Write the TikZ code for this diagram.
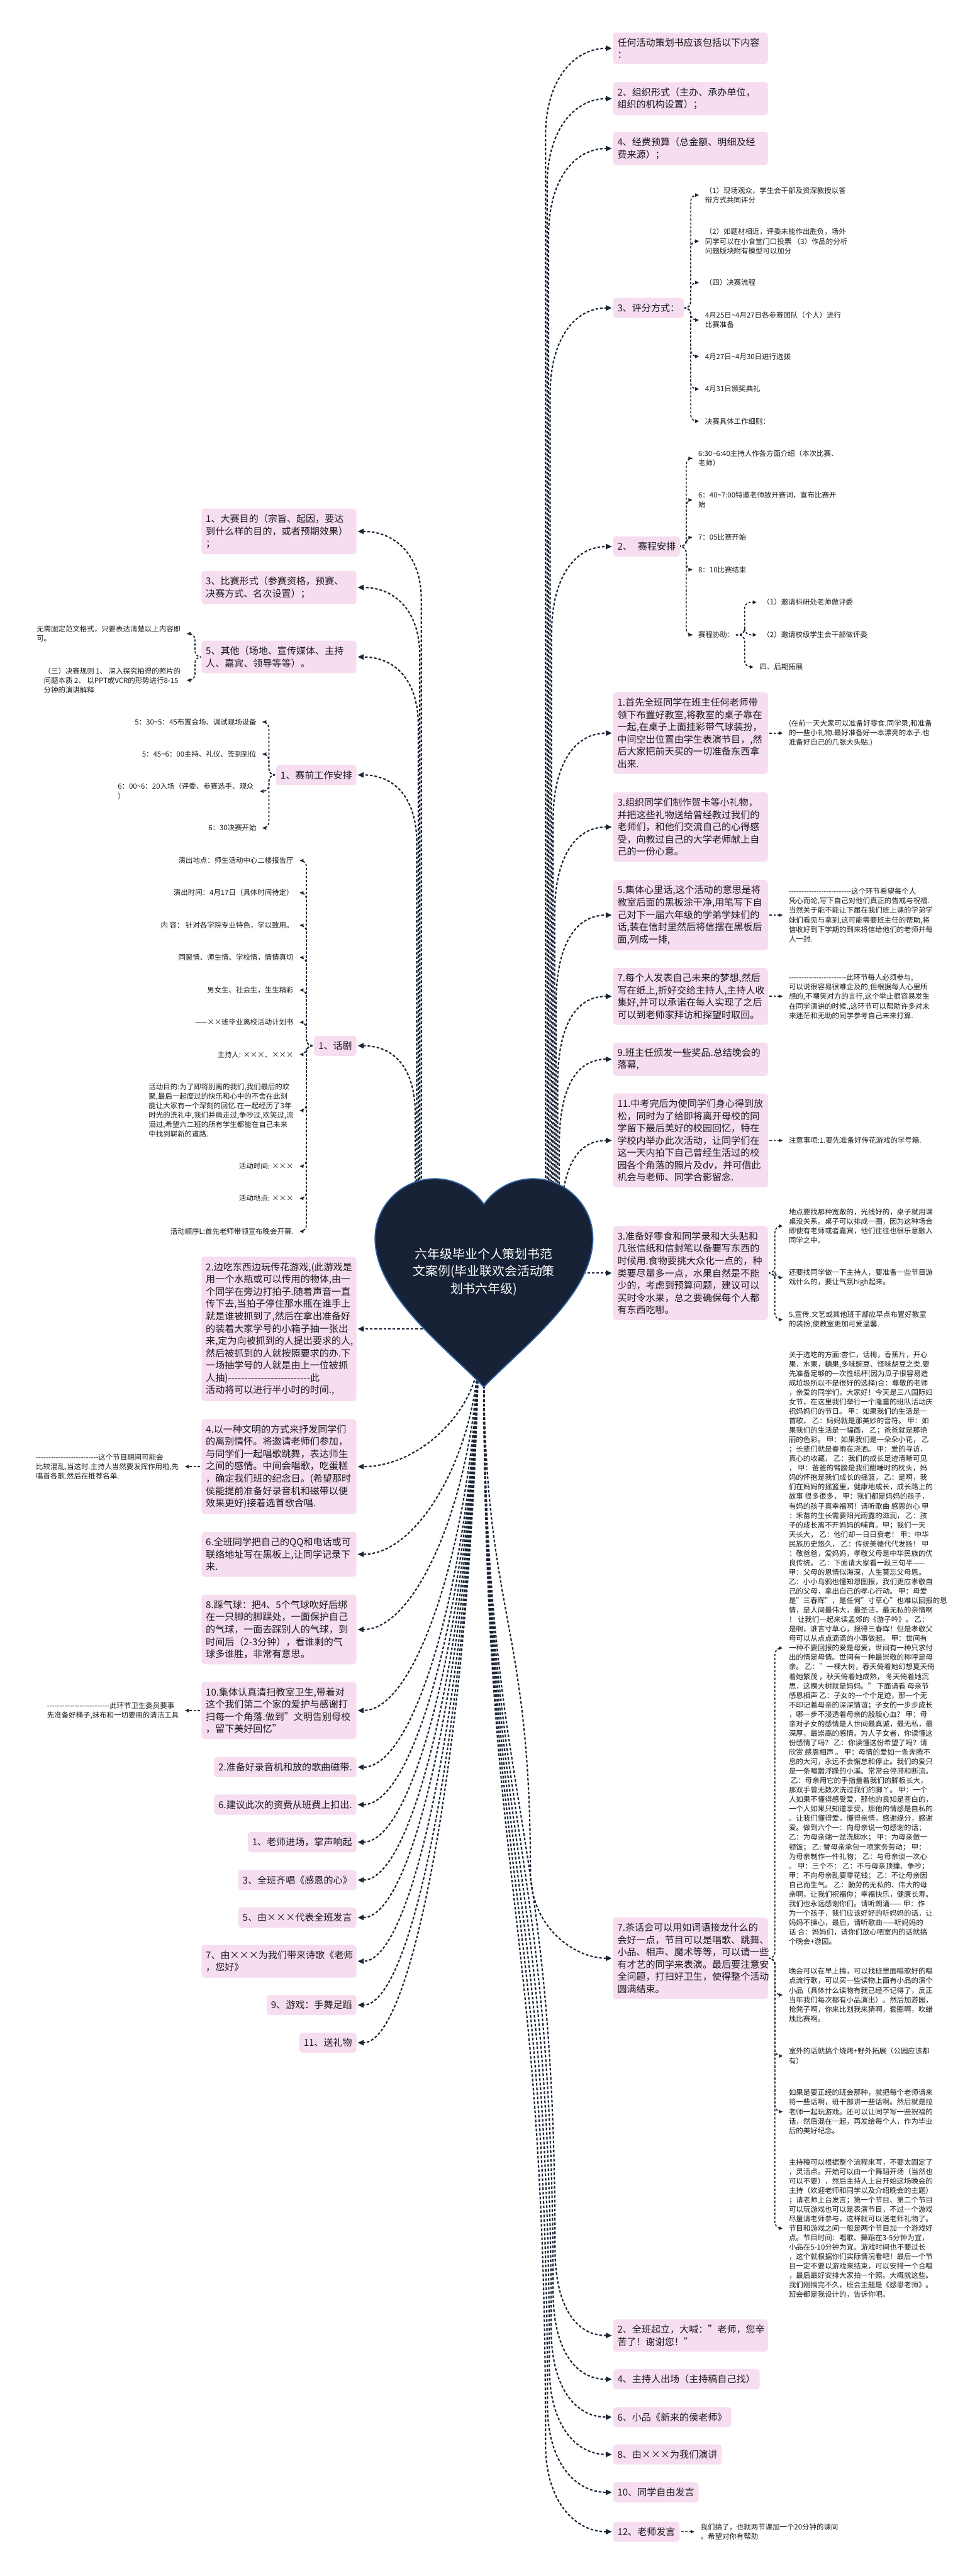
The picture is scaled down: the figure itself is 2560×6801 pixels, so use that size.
\documentclass[tikz,border=0pt]{standalone}
\usepackage{fontspec}
\setmainfont{Noto Sans CJK SC}
\usetikzlibrary{arrows.meta,calc}
\definecolor{boxpink}{HTML}{F6DEF0}
\definecolor{linec}{HTML}{1B2536}
\definecolor{heartc}{HTML}{172236}
\definecolor{heartb}{HTML}{2F5F9E}
\definecolor{txt}{HTML}{1A1A1A}
\pgfdeclarelayer{bgl}
\pgfdeclarelayer{conn}
\pgfdeclarelayer{heartl}
\pgfsetlayers{bgl,conn,heartl,main}
\newcommand\dfive{-{}-{}-{}-{}-{}}
\tikzset{
 box/.style={fill=boxpink, rounded corners=8pt, inner xsep=11.5pt, inner ysep=15pt, align=left, font=\fontsize{25}{32.5}\selectfont, text=txt},
 wbox/.style={text width=386pt},
 rbox/.style={box, anchor=west},
 lbox/.style={box, anchor=east},
 leaf/.style={inner sep=0pt, align=left, font=\fontsize{19}{25}\selectfont, text=txt},
 rleaf/.style={leaf, anchor=west},
 lleaf/.style={leaf, anchor=east},
 conn/.style={draw=linec, line width=3.6pt, dash pattern=on 7pt off 5pt, -{Triangle[length=16pt,width=14pt]}, shorten >=3pt},
 cconn/.style={draw=linec, line width=2.8pt, dash pattern=on 6pt off 4.5pt, -{Triangle[length=10pt,width=9pt]}, rounded corners=16pt, shorten >=16pt, shorten <=4pt},
 title/.style={align=center, text=white, font=\fontsize{33}{46}\selectfont, inner sep=0pt}
}
% main connectors
\newcommand\cUR[2]{\draw[conn] let \p1=(#1.west) in (root.center) -- (#2pt,-3220pt) -- (#2pt,\y1-230pt) .. controls (#2pt,\y1-80pt) and (\x1-100pt,\y1) .. (\p1);}
\newcommand\cUL[2]{\draw[conn] let \p1=(#1.east) in (root.center) -- (#2pt,-3220pt) -- (#2pt,\y1-180pt) .. controls (#2pt,\y1-60pt) and (\x1+100pt,\y1) .. (\p1);}
\newcommand\cLR[2]{\draw[conn] let \p1=(#1.west) in (root.center) -- (1277pt,-3600pt) .. controls (1277pt,{0.5*(\y1+230pt-3600pt)}) and (#2pt,{0.5*(\y1+230pt-3600pt)}) .. (#2pt,\y1+230pt) .. controls (#2pt,\y1+80pt) and (\x1-100pt,\y1) .. (\p1);}
\newcommand\cLL[1]{\draw[conn] let \p1=(#1.east) in (root.center) -- (1262pt,-3600pt) .. controls (1245pt,{0.5*(\y1-3600pt)}) and ({0.5*(\x1+1262pt)},\y1) .. (\p1);}
% child connectors
\newcommand\chR[3]{\draw[cconn] (#1.east) -- ++(#2pt,0pt) |- (#3.west);}
\newcommand\chL[3]{\draw[cconn] (#1.west) -- ++(-#2pt,0pt) |- (#3.east);}
\newcommand\chS[2]{\draw[cconn] (#1.east) -- (#1.east -| #2.west);}
\newcommand\chSL[2]{\draw[cconn] (#1.west) -- (#1.west -| #2.east);}
\begin{document}
\begin{tikzpicture}[x=1pt,y=-1pt]
\useasboundingbox (0,0) rectangle (2560,6801);
\begin{pgfonlayer}{bgl}
\fill[white] (0,0) rectangle (2560,6801);
\end{pgfonlayer}

% ---------- root ----------
\node[title] (root) at (1277,3358) {六年级毕业个人策划书范\\文案例(毕业联欢会活动策\\划书六年级)};

% ---------- right boxes ----------
\node[rbox,wbox] (r1) at (1618,127.5) {任何活动策划书应该包括以下内容\\：};
\node[rbox,wbox] (r2) at (1618,260.5) {2、组织形式（主办、承办单位，\\组织的机构设置）；};
\node[rbox,wbox] (r3) at (1618,392) {4、经费预算（总金额、明细及经\\费来源）；};
\node[rbox] (r4) at (1618,813) {3、评分方式：};
\node[rbox] (r5) at (1618,1443) {2、\hspace{0.6em}赛程安排};
\node[rbox,wbox] (r6) at (1618,1935.5) {1.首先全班同学在班主任何老师带\\领下布置好教室,将教室的桌子靠在\\一起,在桌子上面挂彩带气球装扮，\\中间空出位置由学生表演节目，,然\\后大家把前天买的一切准备东西拿\\出来.};
\node[rbox,wbox] (r7) at (1618,2183.5) {3.组织同学们制作贺卡等小礼物，\\并把这些礼物送给曾经教过我们的\\老师们，和他们交流自己的心得感\\受，向教过自己的大学老师献上自\\己的一份心意。};
\node[rbox,wbox] (r8) at (1618,2416) {5.集体心里话,这个活动的意思是将\\教室后面的黑板涂干净,用笔写下自\\己对下一届六年级的学弟学妹们的\\话,装在信封里然后将信摆在黑板后\\面,列成一排,};
\node[rbox,wbox] (r9) at (1618,2630.5) {7.每个人发表自己未来的梦想,然后\\写在纸上,折好交给主持人,主持人收\\集好,并可以承诺在每人实现了之后\\可以到老师家拜访和探望时取回。};
\node[rbox,wbox] (r10) at (1618,2796.5) {9.班主任颁发一些奖品.总结晚会的\\落幕,};
\node[rbox,wbox] (r11) at (1618,3011) {11.中考完后为使同学们身心得到放\\松，同时为了给即将离开母校的同\\学留下最后美好的校园回忆，特在\\学校内举办此次活动，让同学们在\\这一天内拍下自己曾经生活过的校\\园各个角落的照片及dv，并可借此\\机会与老师、同学合影留念.};
\node[rbox,wbox] (r12) at (1618,3361) {3.准备好零食和同学录和大头贴和\\几张信纸和信封笔以备要写东西的\\时候用.食物要挑大众化一点的，种\\类要尽量多一点，水果自然是不能\\少的，考虑到预算问题，建议可以\\买时令水果，总之要确保每个人都\\有东西吃哪。};
\node[rbox,wbox] (r13) at (1618,5170) {7.茶话会可以用如词语接龙什么的\\会好一点，节目可以是唱歌、跳舞、\\小品、相声、魔术等等，可以请一些\\有才艺的同学来表演。最后要注意安\\全问题，打扫好卫生，使得整个活动\\圆满结束。};
\node[rbox,wbox] (r14) at (1618,6166) {2、全班起立，大喊："老师，您辛\\苦了！谢谢您！"};
\node[rbox] (r15) at (1618,6281.5) {4、主持人出场（主持稿自己找）};
\node[rbox] (r16) at (1618,6381.5) {6、小品《新来的侯老师》};
\node[rbox] (r17) at (1618,6480) {8、由×××为我们演讲};
\node[rbox] (r18) at (1618,6580) {10、同学自由发言};
\node[rbox] (r19) at (1618,6684) {12、老师发言};

% ---------- right leaves ----------
\node[rleaf] (r4a) at (1861,515) {（1）现场观众，学生会干部及资深教授以答\\辩方式共同评分};
\node[rleaf] (r4b) at (1861,637) {（2）如题材相近，评委未能作出胜负，场外\\同学可以在小食堂门口投票 （3）作品的分析\\问题版块附有模型可以加分};
\node[rleaf] (r4c) at (1861,746) {（四）决赛流程};
\node[rleaf] (r4d) at (1861,845) {4月25日\textasciitilde 4月27日各参赛团队（个人）进行\\比赛准备};
\node[rleaf] (r4e) at (1861,941) {4月27日\textasciitilde 4月30日进行选拔};
\node[rleaf] (r4f) at (1861,1027) {4月31日颁奖典礼};
\node[rleaf] (r4g) at (1861,1112) {决赛具体工作细则：};

\node[rleaf] (r5a) at (1843,1210) {6:30\textasciitilde 6:40主持人作各方面介绍（本次比赛、\\老师）};
\node[rleaf] (r5b) at (1843,1320) {6：40\textasciitilde 7:00特邀老师致开赛词，宣布比赛开\\始};
\node[rleaf] (r5c) at (1843,1419) {7：05比赛开始};
\node[rleaf] (r5d) at (1843,1504) {8：10比赛结束};
\node[rleaf] (r5e) at (1843,1676) {赛程协助：};
\node[rleaf] (r5e1) at (2013,1590) {（1）邀请科研处老师做评委};
\node[rleaf] (r5e2) at (2013,1676) {（2）邀请校级学生会干部做评委};
\node[rleaf] (r5e3) at (2005,1761) {四、后期拓展};

\node[rleaf] (r6a) at (2082,1935) {(在前一天大家可以准备好零食.同学录,和准备\\的一些小礼物.最好准备好一本漂亮的本子.也\\准备好自己的几张大头贴.)};
\node[rleaf] (r8a) at (2082,2416) {\dfive\dfive\dfive\dfive\dfive 这个环节希望每个人\\凭心而论,写下自己对他们真正的告戒与祝福.\\当然关于能不能让下届在我们班上课的学弟学\\妹们看见与拿到,这可能需要班主任的帮助,将\\信收好到下学期的到来将信给他们的老师并每\\人一封.};
\node[rleaf] (r9a) at (2082,2631) {\dfive\dfive\dfive\dfive -{}-{}-{}此环节每人必须参与,\\可以说很容易很难企及的,但根据每人心里所\\想的,不嘲笑对方的言行,这个举止很容易发生\\在同学演讲的时候.,这环节可以帮助许多对未\\来迷茫和无助的同学参考自己未来打算.};
\node[rleaf] (r11a) at (2082,3011) {注意事项:1.要先准备好传花游戏的学号箱.};
\node[rleaf] (r12a) at (2082,3237) {地点要找那种宽敞的，光线好的，桌子就用课\\桌没关系。桌子可以排成一圈，因为这种场合\\即使有老师或者嘉宾，他们往往也很乐意融入\\同学之中。};
\node[rleaf] (r12b) at (2082,3373) {还要找同学做一下主持人，要准备一些节目游\\戏什么的，要让气氛high起来。};
\node[rleaf] (r12c) at (2082,3484) {5.宣传.文艺或其他班干部应早点布置好教室\\的装扮,使教室更加可爱温馨.};

\node[rleaf] (r13a) at (2082,4351) {关于选吃的方面:杏仁，话梅，香蕉片，开心\\
果，水果，糖果,多味豌豆、怪味胡豆之类.要\\
先准备足够的一次性纸杯(因为瓜子很容易造\\
成垃圾所以不是很好的选择)合：尊敬的老师\\
，亲爱的同学们，大家好！今天是三八国际妇\\
女节，在这里我们举行一个隆重的班队活动庆\\
祝妈妈们的节日。 甲：如果我们的生活是一\\
首歌， 乙：妈妈就是那美妙的音符。 甲：如\\
果我们的生活是一幅画， 乙；爸爸就是那艳\\
丽的色彩。 甲：如果我们是一朵朵小花， 乙\\
；长辈们就是春雨在浇洒。 甲：爱的寻访，\\
真心的收藏， 乙：我们的成长足迹清晰可见\\
， 甲：爸爸的臂膀是我们酣睡时的枕头，妈\\
妈的怀抱是我们成长的摇篮， 乙：是啊，我\\
们在妈妈的摇篮里，健康地成长，成长路上的\\
故事 很多很多， 甲：我们都是妈妈的孩子，\\
有妈的孩子真幸福啊！请听歌曲 感恩的心 甲\\
：禾苗的生长需要阳光雨露的滋润， 乙：孩\\
子的成长离不开妈妈的哺育。甲；我们一天\\
天长大， 乙：他们却一日日衰老！ 甲：中华\\
民族历史悠久， 乙：传统美德代代发扬！ 甲\\
：敬爸爸，爱妈妈，孝敬父母是中华民族的优\\
良传统。 乙：下面请大家看一段三句半——\\
甲：父母的恩情似海深，人生莫忘父母恩。\\
乙：小小乌鸦也懂知恩图报，我们更应孝敬自\\
己的父母，拿出自己的孝心行动。 甲：母爱\\
是"三春晖"，是任何"寸草心"也难以回报的恩\\
情，是人间最伟大，最圣洁，最无私的亲情啊\\
！ 让我们一起来读孟郊的《游子吟》。 乙：\\
是啊，谁言寸草心，报得三春晖！但是孝敬父\\
母可以从点点滴滴的小事做起。 甲：世间有\\
一种不要回报的爱是母爱，世间有一种只求付\\
出的情是母情。世间有一种最崇敬的称呼是母\\
亲。 乙："一棵大树，春天倚着她幻想夏天倚\\
着她繁茂 ，秋天倚着她成熟， 冬天倚着她沉\\
思，这棵大树就是妈妈。" 下面请看 母亲节\\
感恩相声 乙：子女的一个个足迹，那一个无\\
不印记着母亲的深深情谊；子女的一步步成长\\
，哪一步不浸透着母亲的殷殷心血？ 甲：母\\
亲对子女的感情是人世间最真诚，最无私，最\\
深厚，最崇高的感情。为人子女者，你读懂这\\
份感情了吗？ 乙：你读懂这份希望了吗？请\\
欣赏 感恩相声 。 甲：母情的爱如一条奔腾不\\
息的大河，永远不会懈怠和停止。我们的爱只\\
是一条喧嚣浮躁的小溪。常常会停滞和断流。\\
\hspace{5pt}乙：母亲用它的手指量着我们的脚板长大，\\
那双手曾无数次洗过我们的脚丫。 甲：一个\\
人如果不懂得感受爱，那他的良知是苍白的，\\
一个人如果只知道享受，那他的情感是自私的\\
。让我们懂得爱，懂得亲情，感谢缘分，感谢\\
爱。做到六个一：向母亲说一句感谢的话；\\
乙：为母亲端一盆洗脚水； 甲：为母亲做一\\
顿饭； 乙: 替母亲承包一项家务劳动； 甲：\\
为母亲制作一件礼物； 乙：与母亲谈一次心\\
。 甲：三个不： 乙：不与母亲顶撞、争吵；\\
甲：不向母亲乱要零花钱； 乙：不让母亲因\\
自己而生气。 乙：勤劳的无私的、伟大的母\\
亲啊，让我们祝福你；幸福快乐，健康长寿。\\
我们也永远感谢你们。请听朗诵—— 甲：作\\
为一个孩子，我们应该好好的听妈妈的话，让\\
妈妈不操心，最后，请听歌曲——听妈妈的\\
话 合：妈妈们，请你们放心吧室内的话就搞\\
个晚会+游园。};
\node[rleaf] (r13b) at (2082,5267) {晚会可以在早上搞，可以找班里面唱歌好的唱\\点流行歌，可以买一些读物上面有小品的演个\\小品（具体什么读物有我已经不记得了，反正\\当年我们每次都有小品演出）。然后加游园，\\抢凳子啊，你来比划我来猜啊，套圈啊，吹蜡\\烛比赛啊。};
\node[rleaf] (r13c) at (2082,5428) {室外的话就搞个烧烤+野外拓展（公园应该都\\有）};
\node[rleaf] (r13d) at (2082,5575) {如果是要正经的班会那种，就把每个老师请来\\将一些话啊，班干部讲一些话啊。然后就是拉\\老师一起玩游戏。还可以让同学写一些祝福的\\话，然后混在一起，再发给每个人，作为毕业\\后的美好纪念。};
\node[rleaf] (r13e) at (2082,5883) {主持稿可以根据整个流程来写，不要太固定了\\，灵活点。开始可以由一个舞蹈开场（当然也\\可以不要），然后主持人上台开始这场晚会的\\主持（欢迎老师和同学以及介绍晚会的主题）\\；请老师上台发言；第一个节目、第二个节目\\可以玩游戏也可以是表演节目，不过一个游戏\\尽量请老师参与，这样就可以送老师礼物了。\\节目和游戏之间一般是两个节目加一个游戏好\\点。节目时间：唱歌、舞蹈在3-5分钟为宜，\\小品在5-10分钟为宜。游戏时间也不要过长\\，这个就根据你们实际情况看吧！最后一个节\\目一定不要以游戏来结束，可以安排一个合唱\\，最后最好安排大家拍一个照。大概就这些。\\我们刚搞完不久，班会主题是《感恩老师》。\\班会都是我设计的，告诉你吧。};
\node[rleaf] (r19a) at (1849,6684) {我们搞了，也就两节课加一个20分钟的课间\\。希望对你有帮助};

% ---------- left boxes ----------
\node[lbox,wbox] (l1) at (941,1403) {1、大赛目的（宗旨、起因，要达\\到什么样的目的，或者预期效果）\\；};
\node[lbox,wbox] (l2) at (941,1551) {3、比赛形式（参赛资格，预赛、\\决赛方式、名次设置）；};
\node[lbox,wbox] (l3) at (941,1734.5) {5、其他（场地、宣传媒体、主持\\人、嘉宾、领导等等）。};
\node[lbox] (l4) at (941,2046) {1、赛前工作安排};
\node[lbox] (l5) at (941,2761) {1、话剧};
\node[lbox,wbox] (l6) at (941,3508.5) {2.边吃东西边玩传花游戏,(此游戏是\\用一个水瓶或可以传用的物体,由一\\个同学在旁边打拍子.随着声音一直\\传下去,当拍子停住那水瓶在谁手上\\就是谁被抓到了,然后在拿出准备好\\的装着大家学号的小箱子抽一张出\\来,定为向被抓到的人提出要求的人,\\然后被抓到的人就按照要求的办.下\\一场抽学号的人就是由上一位被抓\\人抽)\dfive\dfive\dfive\dfive\dfive 此\\活动将可以进行半小时的时间.,};
\node[lbox,wbox] (l7) at (941,3872) {4.以一种文明的方式来抒发同学们\\的离别情怀。将邀请老师们参加，\\与同学们一起唱歌跳舞，表达师生\\之间的感情。中间会唱歌，吃蛋糕\\，确定我们班的纪念日。(希望那时\\侯能提前准备好录音机和磁带以便\\效果更好)接着选首歌合唱.};
\node[lbox,wbox] (l8) at (941,4103.5) {6.全班同学把自己的QQ和电话或可\\联络地址写在黑板上,让同学记录下\\来.};
\node[lbox,wbox] (l9) at (941,4302) {8.踩气球：把4、5个气球吹好后绑\\在一只脚的脚踝处，一面保护自己\\的气球，一面去踩别人的气球，到\\时间后（2-3分钟），看谁剩的气\\球多谁胜，非常有意思。};
\node[lbox,wbox] (l10) at (941,4516) {10.集体认真清扫教室卫生,带着对\\这个我们第二个家的爱护与感谢打\\扫每一个角落.做到"文明告别母校\\，留下美好回忆"};
\node[lbox] (l11) at (941,4665.5) {2.准备好录音机和放的歌曲磁带.};
\node[lbox] (l12) at (941,4764.5) {6.建议此次的资费从班费上扣出.};
\node[lbox] (l13) at (941,4863.5) {1、老师进场，掌声响起};
\node[lbox] (l14) at (941,4963.5) {3、全班齐唱《感恩的心》};
\node[lbox] (l15) at (941,5062.5) {5、由×××代表全班发言};
\node[lbox,wbox] (l16) at (941,5178) {7、由×××为我们带来诗歌《老师\\，您好》};
\node[lbox] (l17) at (941,5293.5) {9、游戏：手舞足蹈};
\node[lbox] (l18) at (941,5393) {11、送礼物};

% ---------- left leaves ----------
\node[lleaf] (l3a) at (477,1673) {无需固定范文格式，只要表达清楚以上内容即\\可。};
\node[lleaf] (l3b) at (477,1796) {（三）决赛规则 1、 深入探究拍得的照片的\\问题本质 2、 以PPT或VCR的形势进行8-15\\分钟的演讲解释};
\node[lleaf] (l4a) at (677,1906) {5：30\textasciitilde 5：45布置会场、调试现场设备};
\node[lleaf] (l4b) at (677,1991) {5：45\textasciitilde 6：00主持、礼仪、签到到位};
\node[lleaf] (l4c) at (670,2089) {6：00\textasciitilde 6：20入场（评委、参赛选手、观众\\）};
\node[lleaf] (l4d) at (677,2186) {6：30决赛开始};
\node[lleaf] (l5a) at (775,2272) {演出地点：师生活动中心二楼报告厅};
\node[lleaf] (l5b) at (775,2357) {演出时间：4月17日（具体时间待定）};
\node[lleaf] (l5c) at (775,2443) {内\ 容：\ 针对各学院专业特色，学以致用。};
\node[lleaf] (l5d) at (775,2528) {同窗情、师生情、学校情，情情真切};
\node[lleaf] (l5e) at (775,2614) {男女生、社会生，生生精彩};
\node[lleaf] (l5f) at (775,2699) {——××班毕业离校活动计划书};
\node[lleaf] (l5g) at (775,2784) {主持人: ×××、×××};
\node[lleaf] (l5h) at (775,2932) {活动目的:为了即将别离的我们,我们最后的欢\\聚,最后一起度过的快乐和心中的不舍在此刻\\能让大家有一个深刻的回忆.在一起经历了3年\\时光的洗礼中,我们并肩走过,争吵过,欢笑过,流\\泪过,希望六二班的所有学生都能在自己未来\\中找到崭新的道路.};
\node[lleaf] (l5i) at (775,3079) {活动时间: ×××};
\node[lleaf] (l5j) at (775,3164) {活动地点: ×××};
\node[lleaf] (l5k) at (775,3251) {活动顺序L:首先老师带领宣布晚会开幕.};
\node[lleaf] (l7a) at (472,3872) {\dfive\dfive\dfive\dfive\dfive 这个节目期间可能会\\比较混乱,当这时.主持人当然要发挥作用啦,先\\唱首各歌.然后在推荐名单.};
\node[lleaf] (l10a) at (472,4517) {\dfive\dfive\dfive\dfive\dfive 此环节卫生委员要事\\先准备好桶子,抹布和一切要用的清洁工具};

% ---------- heart ----------
\begin{pgfonlayer}{heartl}
\draw[fill=heartc, draw=heartb, line width=3pt] (1277,3662) .. controls (1180,3560) and (990,3420) .. (990,3270)
  arc[start angle=180, end angle=325, radius=158]
  arc[start angle=215, end angle=360, radius=158]
  .. controls (1564,3420) and (1374,3560) .. (1277,3662) -- cycle;
\end{pgfonlayer}

% ---------- connectors ----------
\begin{pgfonlayer}{conn}
\cUR{r1}{1440}\cUR{r2}{1444}\cUR{r3}{1448}\cUR{r4}{1452}\cUR{r5}{1456}
\cUR{r6}{1460}\cUR{r7}{1464}\cUR{r8}{1468}\cUR{r9}{1472}\cUR{r10}{1476}\cUR{r11}{1480}
\draw[conn] (root.center) |- (r12.west);
\cLR{r13}{1400}\cLR{r14}{1465}\cLR{r15}{1460}\cLR{r16}{1455}\cLR{r17}{1450}\cLR{r18}{1445}\cLR{r19}{1440}
\cUL{l1}{1112}\cUL{l2}{1108}\cUL{l3}{1104}\cUL{l4}{1100}\cUL{l5}{1096}
\draw[conn] (root.center) |- (l6.east);
\cLL{l7}\cLL{l8}\cLL{l9}\cLL{l10}\cLL{l11}\cLL{l12}\cLL{l13}\cLL{l14}\cLL{l15}\cLL{l16}\cLL{l17}\cLL{l18}

\foreach \c in {r4a,r4b,r4c,r4d,r4e,r4f,r4g}{\chR{r4}{18}{\c}}
\foreach \c in {r5a,r5b,r5c,r5d,r5e}{\chR{r5}{16}{\c}}
\foreach \c in {r5e1,r5e2,r5e3}{\chR{r5e}{27}{\c}}
\chS{r6}{r6a}\chS{r8}{r8a}\chS{r9}{r9a}\chS{r11}{r11a}\chS{r19}{r19a}
\foreach \c in {r12a,r12b,r12c}{\chR{r12}{18}{\c}}
\foreach \c in {r13a,r13b,r13c,r13d,r13e}{\chR{r13}{18}{\c}}
\foreach \c in {l3a,l3b}{\chL{l3}{17}{\c}}
\foreach \c in {l4a,l4b,l4c,l4d}{\chL{l4}{19}{\c}}
\foreach \c in {l5a,l5b,l5c,l5d,l5e,l5f,l5g,l5h,l5i,l5j,l5k}{\chL{l5}{20}{\c}}
\chSL{l7}{l7a}\chSL{l10}{l10a}
\end{pgfonlayer}
\end{tikzpicture}
\end{document}
